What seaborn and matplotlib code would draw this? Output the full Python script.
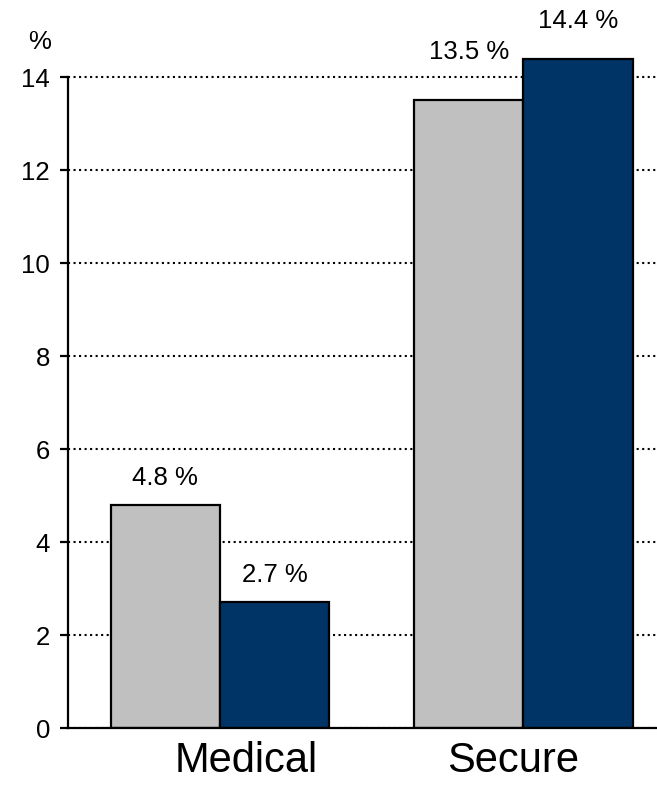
import matplotlib
matplotlib.use("Agg")
import matplotlib.pyplot as plt
import matplotlib.transforms as mtransforms
import pandas as pd
import seaborn as sns

categories = ["Medical", "Secure"]
grey_values = [4.8, 13.5]
navy_values = [2.7, 14.4]
series_names = ["Series A", "Series B"]
y_ticks = [0, 2, 4, 6, 8, 10, 12, 14]

sns.set_style("white")
plt.rcParams["font.family"] = ["Liberation Sans", "DejaVu Sans"]
plt.rcParams["text.color"] = "black"
plt.rcParams["xtick.color"] = "black"
plt.rcParams["ytick.color"] = "black"
plt.rcParams["axes.labelcolor"] = "black"

df = pd.DataFrame({
    "category": categories * 2,
    "series": [series_names[0]] * 2 + [series_names[1]] * 2,
    "value": grey_values + navy_values,
})

fig = plt.figure(figsize=(6.57, 7.85), dpi=100)
ax = fig.add_axes([68 / 657, 57 / 785, 1 - 68 / 657, (728 - 40) / 785])

sns.barplot(
    data=df, x="category", y="value", hue="series", order=categories,
    hue_order=series_names, palette=["#C0C0C0", "#003366"], width=0.72,
    gap=0, edgecolor="black", linewidth=1.6, saturation=1, legend=False,
    errorbar=None, ax=ax, zorder=3,
)

# label offsets above each bar (pixels), same order as ax.patches
offsets_px = [15, 36, 15, 26]
for bar, off in zip(ax.patches, offsets_px):
    h = bar.get_height()
    ax.annotate(f"{h:.1f} %", (bar.get_x() + bar.get_width() / 2, h),
                xytext=(0, off * 0.72), textcoords="offset points",
                ha="center", va="bottom", fontsize=18.5)

ax.set_xlim(-0.5, 1.44)
ax.set_ylim(0, 14.8)
ax.set_yticks(y_ticks)
ax.yaxis.grid(True, linestyle=":", color="black", linewidth=1.5, zorder=0)
ax.set_axisbelow(True)
for s in ["top", "right"]:
    ax.spines[s].set_visible(False)
for s in ["left", "bottom"]:
    ax.spines[s].set_linewidth(1.6)
    ax.spines[s].set_color("black")
    ax.spines[s].set_zorder(4)
ax.spines["left"].set_bounds(0, 14)
ax.tick_params(axis="y", length=6, width=1.6, pad=7, labelsize=18.5, color="black", left=True)
ax.tick_params(axis="x", length=0, pad=9, labelsize=30)
ax.set_xlabel("")
ax.set_ylabel("")

# category labels sit a little off the group centres in the original
label_shift_px = [26, -10]
for lab, dx in zip(ax.get_xticklabels(), label_shift_px):
    lab.set_transform(lab.get_transform() + mtransforms.ScaledTranslation(dx / 100, 0, fig.dpi_scale_trans))

fig.text(40 / 657, 1 - 42 / 785, "%", ha="center", va="center", fontsize=18.5)

plt.savefig("out.png", dpi=100)
